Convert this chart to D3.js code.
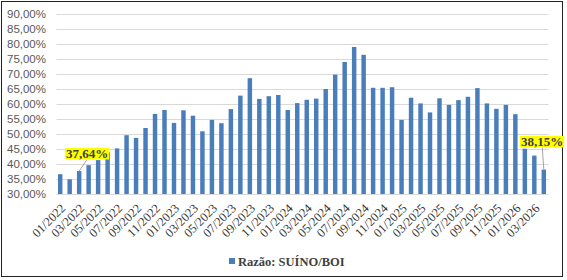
<!DOCTYPE html>
<html>
<head>
<meta charset="utf-8">
<script src="https://cdn.jsdelivr.net/npm/d3@7"></script>
<style>
  body { margin: 0; background: #fff; }
</style>
</head>
<body>
<script>
const w = 567
const h = 280

// monthly data 01/2022 .. 04/2026
const months = [
  '01/2022','02/2022','03/2022','04/2022','05/2022','06/2022','07/2022','08/2022','09/2022','10/2022','11/2022','12/2022',
  '01/2023','02/2023','03/2023','04/2023','05/2023','06/2023','07/2023','08/2023','09/2023','10/2023','11/2023','12/2023',
  '01/2024','02/2024','03/2024','04/2024','05/2024','06/2024','07/2024','08/2024','09/2024','10/2024','11/2024','12/2024',
  '01/2025','02/2025','03/2025','04/2025','05/2025','06/2025','07/2025','08/2025','09/2025','10/2025','11/2025','12/2025',
  '01/2026','02/2026','03/2026','04/2026'
]
const ratio = [
  36.6, 34.9, 37.64, 39.6, 41.3, 43.9, 45.2, 49.6, 48.7, 52.0, 56.7, 58.0,
  53.7, 57.9, 56.1, 50.9, 54.7, 53.6, 58.3, 62.8, 68.6, 61.7, 62.6, 63.0,
  58.0, 60.3, 61.4, 61.8, 65.0, 69.8, 74.0, 79.0, 76.4, 65.4, 65.4, 65.6,
  54.7, 62.1, 60.2, 57.2, 61.9, 59.7, 61.3, 62.4, 65.3, 60.2, 58.4, 59.7,
  56.6, 45.1, 42.8, 38.15
]
const yTicks = [30, 35, 40, 45, 50, 55, 60, 65, 70, 75, 80, 85, 90]
const xTickLabels = months.filter((m, i) => i % 2 === 0)
const highlighted = [
  { month: '03/2022', text: '37,64%' },
  { month: '04/2026', text: '38,15%' }
]
const seriesName = 'Razão: SUÍNO/BOI'

const fmt = v => v.toFixed(2).replace('.', ',') + '%'

const svg = d3.select('body')
  .append('svg')
  .attr('width', w)
  .attr('height', h)

svg.append('rect')
  .attr('x', 1.5).attr('y', 1.5)
  .attr('width', 561).attr('height', 275)
  .attr('fill', '#fff')
  .attr('stroke', '#222')
  .attr('stroke-width', 1)

const plotLeft = 55.5, plotRight = 548.5, plotTop = 14, plotBottom = 194

const xScale = d3.scaleBand()
  .domain(months)
  .range([plotLeft, plotRight])
  .paddingInner(0.53)
  .paddingOuter(0.26)

const yScale = d3.scaleLinear()
  .domain([30, 90])
  .range([plotBottom, plotTop])

// gridlines
svg.append('g')
  .selectAll('line')
  .data(yTicks)
  .enter()
  .append('line')
  .attr('x1', plotLeft + 1)
  .attr('x2', plotRight)
  .attr('y1', d => Math.round(yScale(d)) + 0.5)
  .attr('y2', d => Math.round(yScale(d)) + 0.5)
  .attr('stroke', '#d9d9d9')
  .attr('stroke-width', 1.2)

const yAxis = d3.axisLeft(yScale)
  .tickValues(yTicks)
  .tickFormat(fmt)
  .tickSize(0)
  .tickPadding(0)

svg.append('g')
  .attr('transform', 'translate(46, 0)')
  .call(yAxis)
  .call(g => g.select('.domain').remove())
  .selectAll('text')
  .attr('fill', '#595959')
  .style('font-family', '"Liberation Sans", Arial, sans-serif')
  .style('font-size', '11.5px')

// bars
svg.append('g')
  .selectAll('rect')
  .data(ratio)
  .enter()
  .append('rect')
  .attr('x', (d, i) => xScale(months[i]))
  .attr('width', xScale.bandwidth())
  .attr('y', d => yScale(d))
  .attr('height', d => plotBottom - yScale(d))
  .attr('fill', '#4a7ebb')

// x labels
const xAxis = d3.axisBottom(xScale)
  .tickValues(xTickLabels)
  .tickSize(0)
  .tickPadding(0)

svg.append('g')
  .attr('transform', `translate(0, ${plotBottom})`)
  .call(xAxis)
  .call(g => g.select('.domain').remove())
  .selectAll('text')
  .attr('fill', '#333')
  .style('font-family', '"Liberation Serif", "Times New Roman", serif')
  .style('font-size', '12.5px')
  .attr('text-anchor', 'end')
  .attr('dy', '0')
  .attr('y', 0)
  .attr('transform', 'translate(6, 15) rotate(-45)')

// data labels
const band = xScale.bandwidth()
highlighted.forEach(hl => {
  const i = months.indexOf(hl.month)
  const bx = xScale(hl.month) + band / 2
  const by = yScale(ratio[i])
  const isLast = i === months.length - 1
  const cx = isLast ? 542 : 87
  const cy = isLast ? 141.5 : 153.5
  svg.append('line')
    .attr('x1', isLast ? bx - 1.5 : cx)
    .attr('y1', cy + 6)
    .attr('x2', bx)
    .attr('y2', by)
    .attr('stroke', '#a6a6a6')
    .attr('stroke-width', 1)
  const t = svg.append('text')
    .attr('x', cx)
    .attr('y', cy)
    .attr('dy', '0.36em')
    .attr('text-anchor', 'middle')
    .attr('fill', '#404040')
    .style('font-family', '"Liberation Serif", "Times New Roman", serif')
    .style('font-weight', 'bold')
    .style('font-size', '13px')
    .text(hl.text)
  const bb = t.node().getBBox()
  svg.insert('rect', () => t.node())
    .attr('x', bb.x - 1)
    .attr('y', cy - 5.5)
    .attr('width', bb.width + 2)
    .attr('height', 11.5)
    .attr('fill', '#ffff00')
})

// legend
const legend = svg.append('g')
legend.append('rect')
  .attr('x', 229)
  .attr('y', 258)
  .attr('width', 6)
  .attr('height', 6)
  .attr('fill', '#4a7ebb')
legend.append('text')
  .attr('x', 238)
  .attr('y', 265.5)
  .attr('fill', '#404040')
  .style('font-family', '"Liberation Serif", "Times New Roman", serif')
  .style('font-weight', 'bold')
  .style('font-size', '12.5px')
  .text(seriesName)
</script>
</body>
</html>
